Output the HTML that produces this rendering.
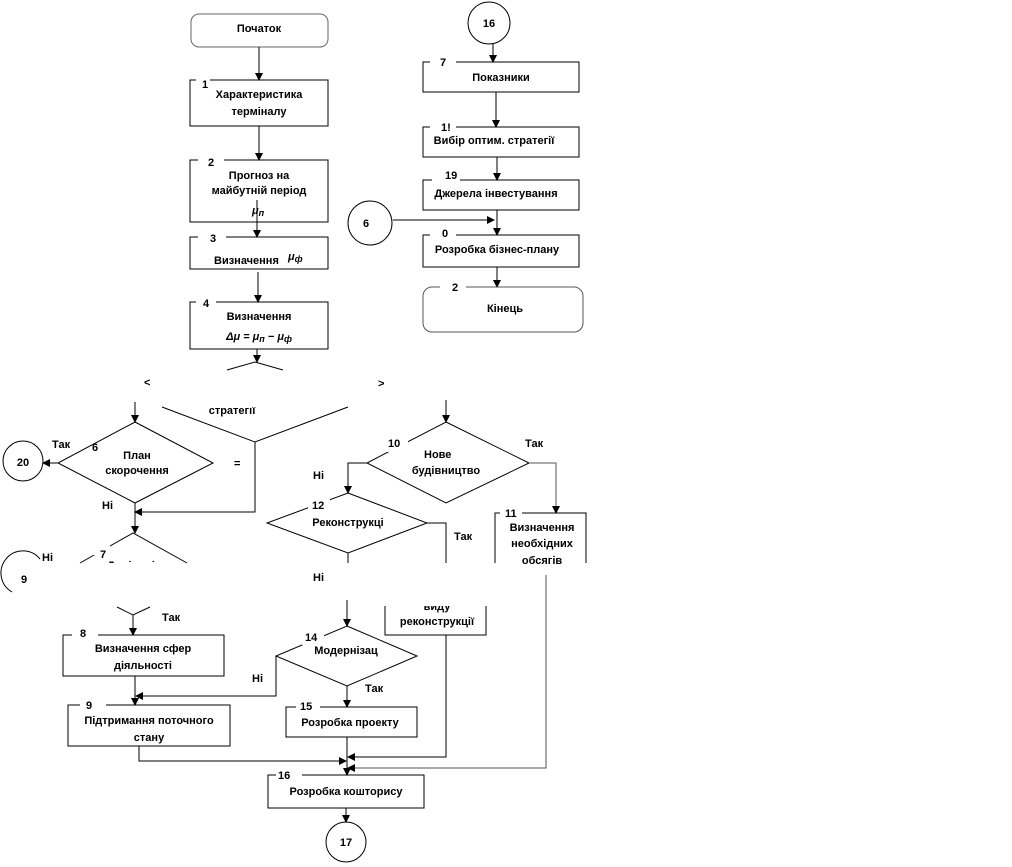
<!DOCTYPE html>
<html><head><meta charset="utf-8"><style>
html,body{margin:0;padding:0;background:#fff;width:1012px;height:867px;overflow:hidden}
svg{display:block}
text{font-family:"Liberation Sans","DejaVu Sans",sans-serif;font-weight:bold;font-size:11px;fill:#000}
.c{text-anchor:middle}
</style></head><body>
<svg width="1012" height="867" viewBox="0 0 1012 867" xmlns="http://www.w3.org/2000/svg">
<defs><marker id="a" markerWidth="8" markerHeight="8" refX="7" refY="4" orient="auto" markerUnits="userSpaceOnUse"><path d="M0,0 L8,4 L0,8 z" fill="#000"/></marker></defs>
<g stroke="#000" stroke-width="1" fill="none">
<!-- left column -->
<rect x="191" y="14" width="137" height="33" rx="8" stroke="#666"/>
<line x1="259" y1="47" x2="259" y2="80" marker-end="url(#a)"/>
<rect x="190" y="80" width="138" height="46"/>
<line x1="259" y1="126" x2="259" y2="160" marker-end="url(#a)"/>
<rect x="190" y="160" width="138" height="62"/>
<line x1="257" y1="200" x2="257" y2="237" marker-end="url(#a)"/>
<rect x="190" y="237" width="138" height="32"/>
<line x1="258" y1="272" x2="258" y2="302" marker-end="url(#a)"/>
<rect x="190" y="302" width="138" height="47"/>
<line x1="257" y1="349" x2="257" y2="362" marker-end="url(#a)"/>
<polyline points="227,370 255,362 283,370"/>
<polyline points="162,407 255,442 348,407"/>
<polyline points="255,442 255,512 135,512" marker-end="url(#a)"/>
<!-- diamond 6 -->
<line x1="135" y1="402" x2="135" y2="422" marker-end="url(#a)"/>
<polygon points="135,422 213,463 135,503 58,463"/>
<line x1="58" y1="463" x2="43" y2="463" marker-end="url(#a)"/>
<circle cx="23" cy="461" r="20"/>
<line x1="135" y1="503" x2="135" y2="533" marker-end="url(#a)"/>
<polyline points="80,563 133,533 187,563"/>
<path d="M40,559 A22,22 0 1 0 12,592"/>
<polyline points="117,607 133,615 150,607"/>
<line x1="133" y1="615" x2="133" y2="635" marker-end="url(#a)"/>
<rect x="63" y="635" width="161" height="41"/>
<line x1="135" y1="676" x2="135" y2="705" marker-end="url(#a)"/>
<rect x="68" y="705" width="162" height="41"/>
<polyline points="276,656 276,696 136,696" marker-end="url(#a)"/>
<polyline points="139,746 139,761 346,761" marker-end="url(#a)"/>
<!-- right branch -->
<line x1="446" y1="400" x2="446" y2="422" marker-end="url(#a)"/>
<polygon points="446,422 529,463 446,503 367,463"/>
<polyline points="529,463 556,463 556,513" stroke="#555" marker-end="url(#a)"/>
<polyline points="367,463 348,463 348,493" marker-end="url(#a)"/>
<polygon points="348,493 427,523 348,553 267,523"/>
<polyline points="427,523 446,523 446,563"/>
<line x1="348" y1="553" x2="348" y2="563"/>
<polyline points="495,563 495,513 586,513 586,563"/>
<polyline points="546,575 546,768 348,768" stroke="#555" marker-end="url(#a)"/>
<polyline points="385,606 385,635 486,635 486,606"/>
<polyline points="446,635 446,757 348,757" marker-end="url(#a)"/>
<line x1="347" y1="600" x2="347" y2="626" marker-end="url(#a)"/>
<polygon points="347,626 417,656 347,686 276,656"/>
<line x1="347" y1="686" x2="347" y2="707" marker-end="url(#a)"/>
<rect x="286" y="707" width="131" height="30"/>
<line x1="347" y1="737" x2="347" y2="775" marker-end="url(#a)"/>
<rect x="268" y="775" width="156" height="33"/>
<line x1="346" y1="808" x2="346" y2="822" marker-end="url(#a)"/>
<circle cx="346" cy="842" r="20"/>
<!-- right column -->
<circle cx="489" cy="23" r="21"/>
<line x1="493" y1="44" x2="493" y2="62" marker-end="url(#a)"/>
<rect x="423" y="62" width="156" height="30"/>
<line x1="496" y1="92" x2="496" y2="127" marker-end="url(#a)"/>
<rect x="423" y="127" width="156" height="30"/>
<line x1="497" y1="157" x2="497" y2="180" marker-end="url(#a)"/>
<rect x="423" y="180" width="156" height="30"/>
<line x1="497" y1="210" x2="497" y2="235" marker-end="url(#a)"/>
<circle cx="370" cy="223" r="22"/>
<line x1="393" y1="220" x2="494" y2="220" marker-end="url(#a)"/>
<rect x="423" y="235" width="156" height="32"/>
<line x1="497" y1="267" x2="497" y2="287" marker-end="url(#a)"/>
<rect x="423" y="287" width="160" height="45" rx="9" stroke="#555"/>
</g>
<!-- label gaps -->
<g fill="#fff">
<rect x="196" y="78" width="14" height="5"/><rect x="198" y="158" width="26" height="5"/>
<rect x="198" y="235" width="28" height="5"/><rect x="196" y="300" width="20" height="5"/>
<rect x="72" y="633" width="26" height="5"/><rect x="80" y="703" width="26" height="5"/>
<rect x="296" y="705" width="24" height="5"/><rect x="276" y="773" width="26" height="5"/>
<rect x="500" y="511" width="22" height="5"/><rect x="430" y="60" width="26" height="5"/>
<rect x="430" y="125" width="26" height="5"/><rect x="432" y="178" width="28" height="5"/>
<rect x="430" y="233" width="26" height="5"/><rect x="440" y="285" width="26" height="5"/>
<rect x="386" y="440" width="22" height="12"/><rect x="308" y="499" width="22" height="12"/>
<rect x="302" y="633" width="22" height="12"/><rect x="92" y="541" width="18" height="14"/>
</g>
<text x="202" y="88">1</text>
<text x="208" y="166">2</text>
<text x="210" y="242">3</text>
<text x="203" y="307">4</text>
<text x="259" y="32" class="c" font-size="10">Початок</text>
<text x="259" y="98" class="c">Характеристика</text>
<text x="259" y="115" class="c">терміналу</text>
<text x="259" y="179" class="c">Прогноз на</text>
<text x="259" y="194" class="c">майбутній період</text>
<text x="252" y="214" font-style="italic" font-family="Liberation Serif" font-size="13">μ<tspan font-size="9" dy="2">п</tspan></text>
<text x="214" y="264" font-size="7">Визначення</text>
<text x="288" y="260" font-style="italic" font-family="Liberation Serif" font-size="13">μ<tspan font-size="9" dy="2">ф</tspan></text>
<text x="259" y="320" class="c">Визначення</text>
<text x="259" y="340" class="c" font-family="Liberation Serif" font-size="13" font-style="italic">Δμ = μ<tspan font-size="9" dy="2">п</tspan><tspan dy="-2"> − μ</tspan><tspan font-size="9" dy="2">ф</tspan></text>
<text x="144" y="386">&lt;</text>
<text x="378" y="387">&gt;</text>
<text x="232" y="414" class="c">стратегії</text>
<rect x="200" y="400" width="70" height="7" fill="#fff"/>
<text x="52" y="448">Так</text>
<text x="92" y="451">6</text>
<text x="137" y="459" class="c">План</text>
<text x="137" y="474" class="c">скорочення</text>
<text x="23" y="466" class="c" font-size="12">20</text>
<text x="234" y="467">=</text>
<text x="102" y="509">Ні</text>
<text x="100" y="558">7</text>
<text x="131" y="569" class="c" font-size="10">Доцільні</text>
<rect x="100" y="563" width="80" height="10" fill="#fff"/>
<text x="42" y="561">Ні</text>
<text x="24" y="583" class="c" font-size="12">9</text>
<text x="162" y="621" font-size="10">Так</text>
<text x="80" y="637">8</text>
<text x="143" y="652" class="c">Визначення сфер</text>
<text x="143" y="669" class="c">діяльності</text>
<text x="86" y="709">9</text>
<text x="149" y="724" class="c">Підтримання поточного</text>
<text x="149" y="741" class="c">стану</text>
<text x="388" y="447">10</text>
<text x="424" y="458">Нове</text>
<text x="446" y="474" class="c">будівництво</text>
<text x="525" y="447" font-size="10">Так</text>
<text x="313" y="479">Ні</text>
<text x="312" y="509">12</text>
<text x="348" y="526" class="c">Реконструкці</text>
<text x="454" y="540" font-size="9">Так</text>
<text x="313" y="581">Ні</text>
<text x="505" y="517">11</text>
<text x="542" y="531" class="c">Визначення</text>
<text x="542" y="547" class="c">необхідних</text>
<text x="542" y="564" class="c">обсягів</text>
<rect x="488" y="564" width="110" height="10" fill="#fff"/>
<text x="437" y="610" class="c">виду</text>
<rect x="400" y="598" width="80" height="8" fill="#fff"/>
<text x="437" y="625" class="c">реконструкції</text>
<text x="305" y="641">14</text>
<text x="346" y="654" class="c">Модернізац</text>
<text x="252" y="682">Ні</text>
<text x="365" y="692" font-size="10">Так</text>
<text x="300" y="710">15</text>
<text x="350" y="726" class="c">Розробка проекту</text>
<text x="278" y="779">16</text>
<text x="346" y="795" class="c">Розробка кошторису</text>
<text x="346" y="846" class="c" font-size="12">17</text>
<text x="489" y="27" class="c" font-size="12">16</text>
<text x="440" y="66">7</text>
<text x="501" y="81" class="c">Показники</text>
<text x="441" y="131">1!</text>
<text x="494" y="144" class="c">Вибір оптим. стратегії</text>
<text x="445" y="179">19</text>
<text x="496" y="197" class="c">Джерела інвестування</text>
<text x="366" y="227" class="c" font-size="12">6</text>
<text x="442" y="237">0</text>
<text x="497" y="253" class="c">Розробка бізнес-плану</text>
<text x="452" y="291">2</text>
<text x="505" y="312" class="c">Кінець</text>
</svg>
</body></html>
